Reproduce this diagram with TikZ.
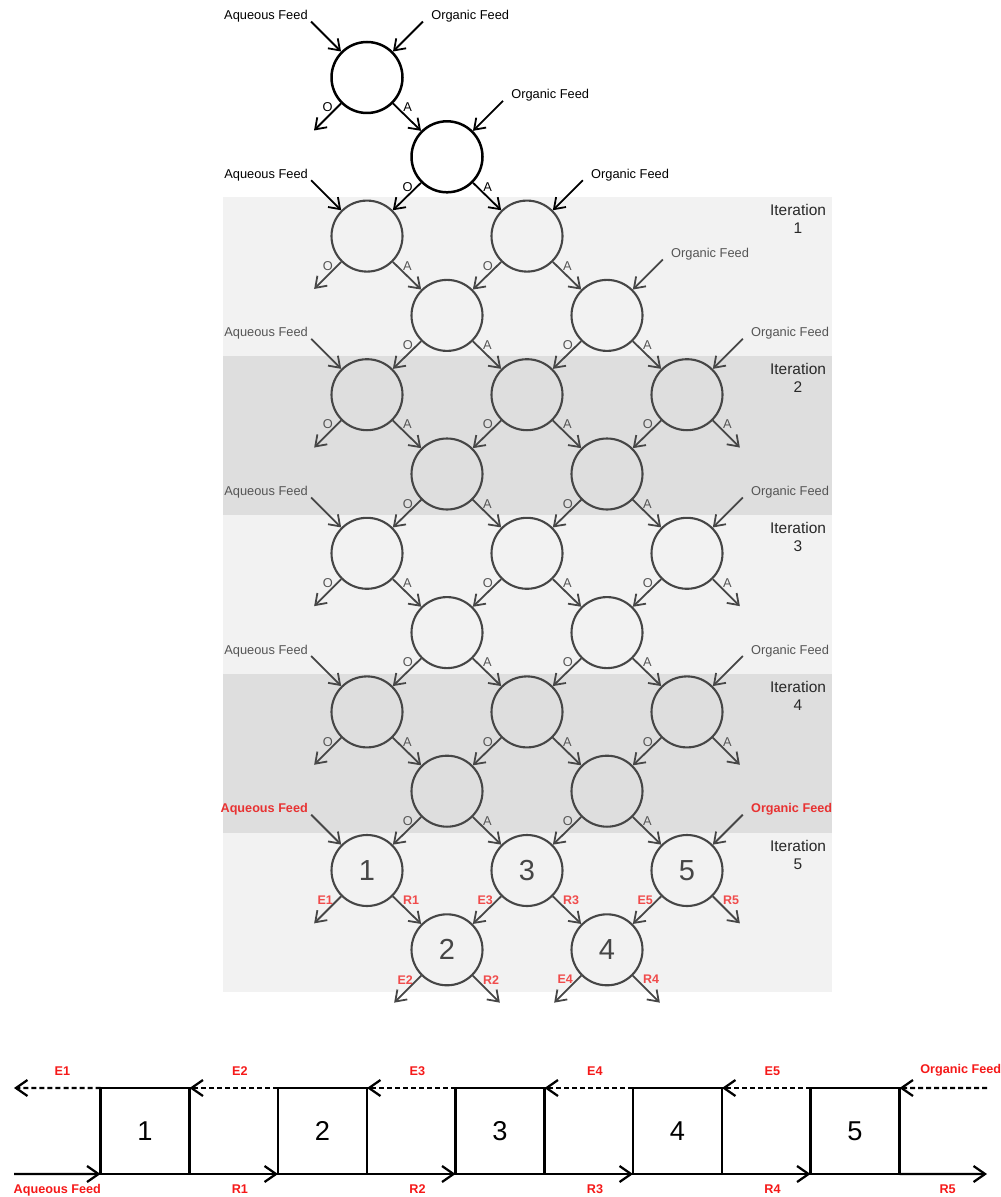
\documentclass[tikz,border=0pt]{standalone}
\usepackage{fontspec}
\setmainfont{Liberation Sans}
\usepackage{tikz}
\usetikzlibrary{
  arrows.meta,
  positioning,
  calc
}

\definecolor{bandlight}{RGB}{242,242,242}
\definecolor{banddark}{RGB}{222,222,222}
\definecolor{linegray}{RGB}{70,70,70}
\definecolor{txtgray}{RGB}{85,85,85}
\definecolor{txtdark}{RGB}{40,40,40}
\definecolor{labelred}{RGB}{240,75,75}
\definecolor{feedred}{RGB}{232,50,50}
\definecolor{schred}{RGB}{245,25,25}

\tikzset{
  stage/.style={circle, draw=linegray, line width=0.42mm, minimum size=14.2mm,
    inner sep=0pt, text=linegray, font=\fontsize{16.5}{18}\selectfont},
  topstage/.style={stage, draw=black, line width=0.5mm},
  flow/.style={line width=0.36mm, -{Straight Barb[length=2mm, width=2.8mm]}},
  lbl/.style={font=\fontsize{7.3}{8}\selectfont, inner sep=0pt},
  graylbl/.style={lbl, text=txtgray},
  redlbl/.style={lbl, font=\fontsize{7.1}{8}\selectfont\bfseries, text=labelred},
  redfeed/.style={lbl, font=\fontsize{7.2}{8}\selectfont\bfseries, text=feedred},
  iterlbl/.style={align=center, text=txtdark, inner sep=0pt,
    font=\fontsize{8.8}{10.2}\selectfont},
  unit/.style={draw, line width=0.45mm, minimum width=17.8mm, minimum height=17.2mm,
    inner sep=0pt, outer sep=0pt, font=\fontsize{15.5}{18}\selectfont},
  sflow/.style={line width=0.45mm, -{Straight Barb[length=2.3mm, width=3.2mm]}},
  dflow/.style={sflow, dash pattern=on 1mm off 0.6mm},
  schlbl/.style={font=\fontsize{7.2}{8}\selectfont\bfseries, text=schred, inner sep=0pt}
}

\begin{document}
\begin{tikzpicture}[x=0.2mm, y=-0.2mm]
    \useasboundingbox (0,0) rectangle (1000,1197);

    % Bandas das iteracoes
    \foreach \k/\col in {0/bandlight,1/banddark,2/bandlight,3/banddark,4/bandlight}
      \fill[\col] (223,{197+159*\k}) rectangle (832,{356+159*\k});
    \foreach \k in {1,...,5}
      \node[iterlbl] (it\k) at (798,{197+159*(\k-1)+22}) {Iteration\\\k};

    % Estagios (linha \r, coluna \j)
    \foreach \r in {0,...,11}
      \foreach \j in {0,...,4}{
        \pgfmathtruncatemacro{\here}{(mod(\r+\j,2)==0)*(\j<\r+1)}
        \ifnum\here=1
          \pgfmathtruncatemacro{\num}{\j+1}
          \ifnum\r<2 \def\look{topstage}\else\def\look{stage}\fi
          \ifnum\r>9 \def\stagenum{\num}\else\def\stagenum{}\fi
          \node[\look] (c\r-\j) at ({367+80*\j},{77.5+79.3*\r}) {\stagenum};
        \fi
      }

    % Correntes: saidas O/A e alimentacoes
    \foreach \r in {0,...,11}
      \foreach \j in {0,...,4}{
        \pgfmathtruncatemacro{\here}{(mod(\r+\j,2)==0)*(\j<\r+1)}
        \ifnum\here=1
          \pgfmathtruncatemacro{\rn}{\r+1}
          \pgfmathtruncatemacro{\jl}{\j-1}
          \pgfmathtruncatemacro{\jr}{\j+1}
          \pgfmathtruncatemacro{\num}{\j+1}
          \pgfmathtruncatemacro{\hasl}{(\r<11)*(\j>0)}
          \pgfmathtruncatemacro{\hasr}{(\r<11)*(\j<4)}
          \pgfmathtruncatemacro{\feedl}{max(\r==0,\j==0)}
          \pgfmathtruncatemacro{\feedr}{max(\r==0,\j==4,\j==\r)}
          \ifnum\r<2 \def\ink{black}\def\olook{lbl}\else\def\ink{linegray}\def\olook{graylbl}\fi
          \ifnum\r>9 \def\otxt{E\num}\def\atxt{R\num}\def\olook{redlbl}\else\def\otxt{O}\def\atxt{A}\fi
          \ifnum\r<3 \def\fink{black}\def\flook{lbl}\else\def\fink{linegray}\def\flook{graylbl}\fi
          \ifnum\r=10 \def\flook{redfeed}\fi
          % saida esquerda
          \ifnum\hasl=1
            \draw[flow,\ink] (c\r-\j.south west) -- (c\rn-\jl.north east);
          \else
            \coordinate (ol\r-\j) at ([shift={(-27,27)}]c\r-\j.south west);
            \draw[flow,\ink] (c\r-\j.south west) -- (ol\r-\j);
          \fi
          \node[\olook, anchor=east] (lo\r-\j) at ([shift={(-8,4)}]c\r-\j.south west) {\otxt};
          % saida direita
          \ifnum\hasr=1
            \draw[flow,\ink] (c\r-\j.south east) -- (c\rn-\jr.north west);
          \else
            \coordinate (or\r-\j) at ([shift={(27,27)}]c\r-\j.south east);
            \draw[flow,\ink] (c\r-\j.south east) -- (or\r-\j);
          \fi
          \node[\olook, anchor=west] (la\r-\j) at ([shift={(10,4)}]c\r-\j.south east) {\atxt};
          % alimentacao aquosa
          \ifnum\feedl=1
            \coordinate (fa\r-\j) at ([shift={(-30,-30)}]c\r-\j.north west);
            \draw[flow,\fink] (fa\r-\j) -- (c\r-\j.north west);
            \node[\flook, anchor=base east] (fal\r-\j) at ([shift={(-3,-2)}]fa\r-\j) {Aqueous Feed};
          \fi
          % alimentacao organica
          \ifnum\feedr=1
            \coordinate (fo\r-\j) at ([shift={(30,-30)}]c\r-\j.north east);
            \draw[flow,\fink] (fo\r-\j) -- (c\r-\j.north east);
            \node[\flook, anchor=base west] (fol\r-\j) at ([shift={(8,-2)}]fo\r-\j) {Organic Feed};
          \fi
        \fi
      }

    % Esquema em contracorrente
    \foreach \i in {1,...,5}
      \node[unit] (b\i) at ({145+177.5*(\i-1)},1131) {\i};
    \coordinate (aqin) at (14,1174);
    \coordinate (rout) at (987,1174);
    \coordinate (eout) at (14,1088);
    \coordinate (orgin) at (987,1088);

    \draw[sflow] (aqin) -- (b1.south west) node[schlbl, pos=.5, below=1.9mm] {Aqueous Feed};
    \foreach \i/\k in {1/2,2/3,3/4,4/5}
      \draw[sflow] (b\i.south east) -- (b\k.south west) node[schlbl, pos=.57, below=1.9mm] {R\i};
    \draw[sflow] (b5.south east) -- (rout) node[schlbl, pos=.55, below=1.9mm] {R5};

    \draw[dflow] (b1.north west) -- (eout) node[schlbl, pos=.44, above=2.2mm] {E1};
    \foreach \i/\k in {1/2,2/3,3/4,4/5}
      \draw[dflow] (b\k.north west) -- (b\i.north east) node[schlbl, pos=.43, above=2.2mm] {E\k};
    \draw[dflow] (orgin) -- (b5.north east) node[schlbl, pos=.3, above=2.2mm] {Organic Feed};
  \end{tikzpicture}
\end{document}
